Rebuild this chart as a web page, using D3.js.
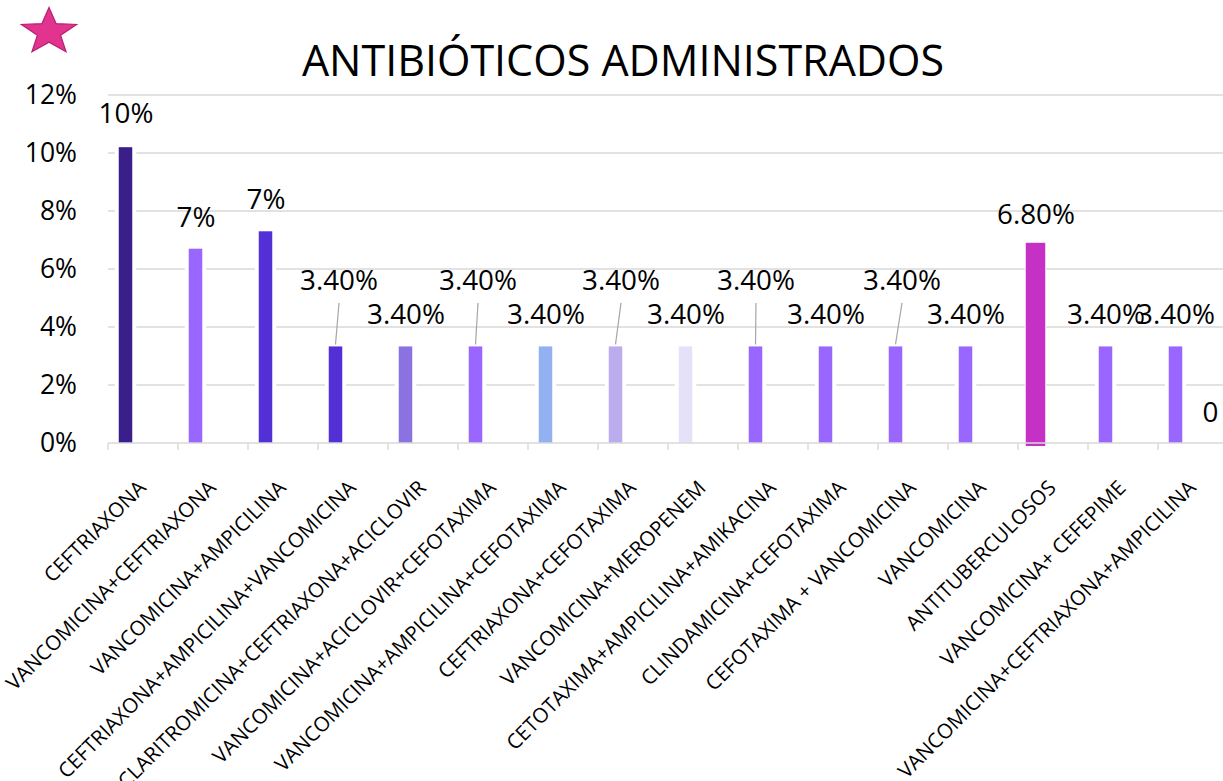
<!DOCTYPE html>
<html>
<head>
<meta charset="utf-8">
<title>Antibióticos administrados</title>
<script src="https://cdn.jsdelivr.net/npm/d3@7"></script>
<style>
  body { margin: 0; background: #fff; }
  svg { display: block; font-family: "Open Sans", sans-serif; }
</style>
</head>
<body>
<div id="chart"></div>
<script>
// data
var categories = [
  "CEFTRIAXONA",
  "VANCOMICINA+CEFTRIAXONA",
  "VANCOMICINA+AMPICILINA",
  "CEFTRIAXONA+AMPICILINA+VANCOMICINA",
  "CLARITROMICINA+CEFTRIAXONA+ACICLOVIR",
  "VANCOMICINA+ACICLOVIR+CEFOTAXIMA",
  "VANCOMICINA+AMPICILINA+CEFOTAXIMA",
  "CEFTRIAXONA+CEFOTAXIMA",
  "VANCOMICINA+MEROPENEM",
  "CETOTAXIMA+AMPICILINA+AMIKACINA",
  "CLINDAMICINA+CEFOTAXIMA",
  "CEFOTAXIMA + VANCOMICINA",
  "VANCOMICINA",
  "ANTITUBERCULOSOS",
  "VANCOMICINA+ CEFEPIME",
  "VANCOMICINA+CEFTRIAXONA+AMPICILINA"
];
var values = [10.2, 6.7, 7.3, 3.33, 3.33, 3.33, 3.33, 3.33, 3.33, 3.33, 3.33, 3.33, 3.33, 6.8, 3.33, 3.33];
var valueLabels = ["10%", "7%", "7%", "3.40%", "3.40%", "3.40%", "3.40%", "3.40%", "3.40%", "3.40%", "3.40%", "3.40%", "3.40%", "6.80%", "3.40%", "3.40%"];
// second series: empty except a zero on the last category
var values2 = [null, null, null, null, null, null, null, null, null, null, null, null, null, null, null, 0];
var yTicks = [0, 2, 4, 6, 8, 10, 12];

var barColors = ["#3a1f8b", "#9966ff", "#5230d5", "#5230d5", "#8a72e0", "#9966ff", "#93b0f0", "#baaced",
                 "#e5e1f8", "#9966ff", "#9966ff", "#9966ff", "#9966ff", "#c530c5", "#9966ff", "#9966ff"];

// label layout: which labels were lifted (with leader line) and horizontal nudges
var lifted = [3, 5, 7, 9, 11];
var nudgeX = {3: 3.5, 5: 2.5, 7: 5.5, 9: 0.5, 11: 6.5};

var W = 1223, H = 781;
var svg = d3.select("#chart").append("svg").attr("width", W).attr("height", H);

var x = d3.scaleBand().domain(categories).range([108, 1228]);
var xs = d3.scaleBand().domain(["s1", "s2"]).range([0, x.bandwidth()]);
var y = d3.scaleLinear().domain([0, 12]).range([443, 95]);
var bw = 13.5;

// title + star
svg.append("text")
  .attr("x", 623).attr("y", 76)
  .attr("text-anchor", "middle")
  .style("font-size", "43px")
  .text("ANTIBIÓTICOS ADMINISTRADOS");

var starPts = d3.range(10).map(function (i) {
  var a = -Math.PI / 2 + i * Math.PI / 5, r = i % 2 ? 0.42 : 1;
  return [49 + 29 * r * Math.cos(a), 32 + 24.5 * r * Math.sin(a)];
});
svg.append("path")
  .attr("d", d3.line()(starPts) + "Z")
  .attr("fill", "#e2338f").attr("stroke", "#b81e72").attr("stroke-width", 1.2);

// gridlines
svg.append("g").selectAll("line").data(yTicks.slice(1)).enter().append("line")
  .attr("x1", 108).attr("x2", W)
  .attr("y1", function (d) { return y(d); }).attr("y2", function (d) { return y(d); })
  .attr("stroke", "#d9d9d9").attr("stroke-width", 1.4);

// y axis labels
var yAxis = svg.append("g").attr("transform", "translate(108,0)")
  .call(d3.axisLeft(y).tickValues(yTicks).tickFormat(function (d) { return d + "%"; }).tickSize(0).tickPadding(31));
yAxis.select(".domain").remove();
yAxis.selectAll("text").style("font-size", "26.5px").style("font-family", "Open Sans").attr("fill", "#000");

// white gaps around the bars (gridlines break there)
svg.append("g").selectAll("rect").data(categories).enter().append("rect")
  .attr("x", function (d) { return x(d) + xs("s1") + xs.bandwidth() / 2 - bw / 2 - 4; })
  .attr("width", bw + 8)
  .attr("y", function (d, i) { return y(values[i]); })
  .attr("height", function (d, i) { return y(0) - y(values[i]); })
  .attr("fill", "#fff");

// bars
svg.append("g").selectAll("rect").data(categories).enter().append("rect")
  .attr("x", function (d) { return x(d) + xs("s1") + xs.bandwidth() / 2 - bw / 2; })
  .attr("width", bw)
  .attr("y", function (d, i) { return y(values[i]); })
  .attr("height", function (d, i) { return y(0) - y(values[i]); })
  .attr("fill", function (d, i) { return barColors[i]; })
  .attr("stroke", function (d, i) { return i === 13 ? barColors[i] : "none"; })
  .attr("stroke-width", 6);

// x axis line and ticks at band edges
var xa = svg.append("g");
xa.append("line").attr("x1", 108).attr("x2", W).attr("y1", y(0)).attr("y2", y(0))
  .attr("stroke", "#d9d9d9").attr("stroke-width", 1.4);
xa.selectAll(".tk").data(categories).enter().append("line").attr("class", "tk")
  .attr("x1", function (d) { return x(d); }).attr("x2", function (d) { return x(d); })
  .attr("y1", y(0)).attr("y2", y(0) + 7)
  .attr("stroke", "#d9d9d9").attr("stroke-width", 1.4);

// category labels, rotated
xa.selectAll(".cat").data(categories).enter().append("text").attr("class", "cat")
  .attr("transform", function (d) { return "translate(" + (x(d) + x.bandwidth() / 2 - 1) + ",484) rotate(-45)"; })
  .attr("text-anchor", "end").attr("dy", "0.35em")
  .style("font-size", "20.5px")
  .text(function (d) { return d; });

// data labels
var lab = svg.append("g").style("font-size", "27.8px");
categories.forEach(function (c, i) {
  var cx = x(c) + xs("s1") + xs.bandwidth() / 2;
  var top = y(values[i]);
  var up = lifted.indexOf(i) >= 0;
  var lx = cx + (nudgeX[i] || 0.5);
  var ly = top - (up ? 56 : 22);
  if (i === 0) ly = top - 24;
  lab.append("text").attr("x", lx).attr("y", ly).attr("text-anchor", "middle").text(valueLabels[i]);
  if (up) {
    lab.append("line")
      .attr("x1", lx).attr("y1", ly + 12.5)
      .attr("x2", cx).attr("y2", top - 2)
      .attr("stroke", "#a6a6a6").attr("stroke-width", 1.2);
  }
});
// second series label
categories.forEach(function (c, i) {
  if (values2[i] === null) return;
  var cx = x(c) + xs("s2") + xs.bandwidth() / 2;
  lab.append("text").attr("x", cx).attr("y", y(values2[i]) - 21).attr("text-anchor", "middle").text(values2[i]);
});
</script>
</body>
</html>
